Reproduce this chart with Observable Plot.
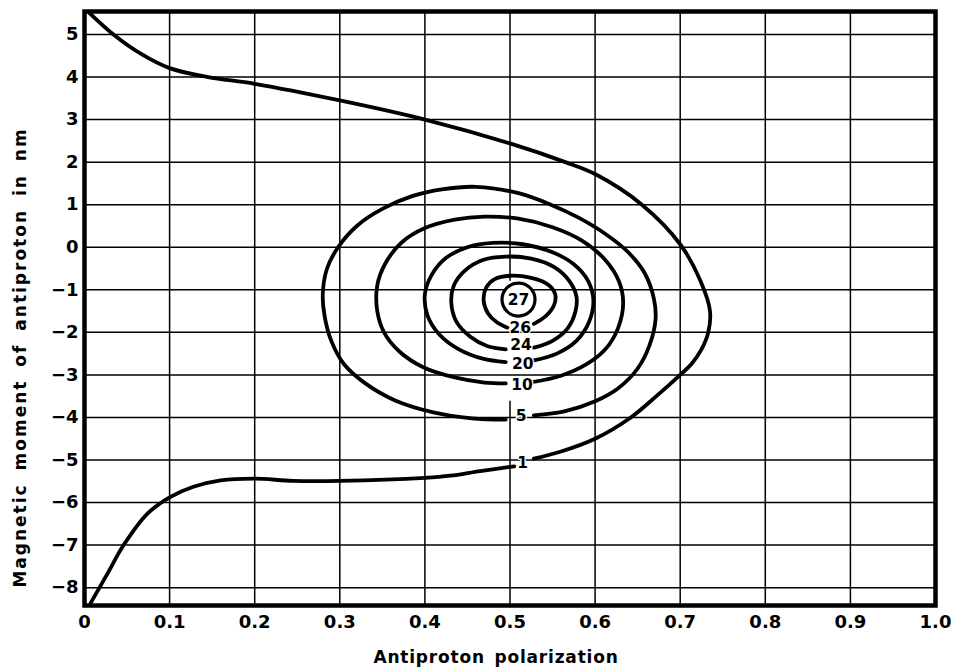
<!DOCTYPE html>
<html>
<head>
<meta charset="utf-8">
<script src="https://cdn.jsdelivr.net/npm/d3@7"></script>
<script src="https://cdn.jsdelivr.net/npm/@observablehq/plot@0.6"></script>
<style>
  html, body { margin: 0; padding: 0; background: #fff; }
  #chart svg { display: block; }
</style>
</head>
<body>
<div id="chart"></div>
<script>
// Tick values and labels
const xTicks = [0, 0.1, 0.2, 0.3, 0.4, 0.5, 0.6, 0.7, 0.8, 0.9, 1.0];
const xTickLabels = ["0", "0.1", "0.2", "0.3", "0.4", "0.5", "0.6", "0.7", "0.8", "0.9", "1.0"];
const yTicks = [-8, -7, -6, -5, -4, -3, -2, -1, 0, 1, 2, 3, 4, 5];
// x = 0.5 grid line is interrupted behind the contour labels
const xGridFull = [0, 0.1, 0.2, 0.3, 0.4, 0.6, 0.7, 0.8, 0.9, 1.0];
const xGridBroken = [{x: 0.5, y1: 5.54, y2: -0.8}, {x: 0.5, y1: -3.62, y2: -8.42}];

// Contour level 1 (two branches)
const c1Upper = [[0.005,5.52],[0.034,5.0],[0.066,4.55],[0.10,4.21],[0.145,4.0],[0.2,3.84],[0.3,3.45],[0.4,3.0],[0.5,2.44],[0.565,2.0],[0.6,1.72],[0.655,1.0],[0.70,0.07],[0.724,-0.8],[0.735,-1.5],[0.733,-2.0],[0.725,-2.4],[0.713,-2.75],[0.70,-3.0],[0.672,-3.5],[0.642,-4.0],[0.6,-4.5],[0.56,-4.8],[0.528,-4.97]];
const c1Lower = [[0.505,-5.15],[0.465,-5.26],[0.43,-5.37],[0.40,-5.42],[0.30,-5.49],[0.245,-5.49],[0.2,-5.44],[0.16,-5.48],[0.128,-5.63],[0.10,-5.88],[0.074,-6.26],[0.046,-7.0],[0.027,-7.67],[0.007,-8.37]];
// Contour level 5
const c5 = [[0.528,-3.95],[0.565,-3.85],[0.6,-3.62],[0.628,-3.3],[0.65,-2.85],[0.664,-2.3],[0.671,-1.7],[0.669,-1.2],[0.658,-0.6],[0.638,-0.1],[0.613,0.3],[0.58,0.7],[0.548,1.0],[0.51,1.27],[0.46,1.42],[0.42,1.36],[0.385,1.2],[0.35,0.9],[0.32,0.5],[0.298,0.0],[0.285,-0.5],[0.28,-1.1],[0.282,-1.6],[0.29,-2.2],[0.305,-2.75],[0.33,-3.2],[0.365,-3.6],[0.41,-3.88],[0.455,-4.02],[0.495,-4.05]];
// Contour level 10
const c10 = [[0.526,-3.17],[0.56,-3.02],[0.59,-2.75],[0.612,-2.4],[0.627,-1.9],[0.633,-1.3],[0.628,-0.8],[0.612,-0.3],[0.585,0.15],[0.55,0.47],[0.51,0.67],[0.47,0.72],[0.435,0.65],[0.4,0.45],[0.372,0.1],[0.353,-0.4],[0.344,-0.9],[0.344,-1.5],[0.352,-2.0],[0.37,-2.45],[0.398,-2.82],[0.435,-3.06],[0.47,-3.18],[0.495,-3.2]];
// Contour level 20
const c20 = [[0.528,-2.66],[0.555,-2.5],[0.578,-2.2],[0.593,-1.75],[0.598,-1.25],[0.592,-0.8],[0.575,-0.4],[0.55,-0.12],[0.515,0.07],[0.48,0.1],[0.45,0.0],[0.425,-0.25],[0.408,-0.65],[0.4,-1.1],[0.403,-1.6],[0.417,-2.05],[0.44,-2.4],[0.468,-2.62],[0.495,-2.7]];
// Contour level 24
const c24 = [[0.528,-2.36],[0.55,-2.2],[0.568,-1.9],[0.577,-1.5],[0.578,-1.15],[0.57,-0.8],[0.552,-0.47],[0.525,-0.27],[0.495,-0.22],[0.468,-0.3],[0.447,-0.55],[0.434,-0.9],[0.431,-1.3],[0.437,-1.75],[0.453,-2.1],[0.473,-2.32],[0.495,-2.4]];
// Contour level 26
const c26 = [[0.528,-1.8],[0.543,-1.6],[0.552,-1.35],[0.553,-1.1],[0.545,-0.88],[0.525,-0.72],[0.5,-0.67],[0.482,-0.75],[0.472,-0.95],[0.469,-1.25],[0.474,-1.55],[0.485,-1.77],[0.497,-1.89]];
// Peak (level 27)
const peak = [[0.51,-1.23]];
// Contour labels
const labelText = ["27", "26", "24", "20", "10", "5", "1"];
const labelX = [0.51, 0.512, 0.513, 0.515, 0.514, 0.513, 0.515];
const labelY = [-1.23, -1.91, -2.31, -2.75, -3.23, -3.96, -5.08];

const xLabel = "Antiproton polarization";
const yLabel = "Magnetic moment of antiproton in nm";

const curves = [c1Upper, c1Lower, c5, c10, c20, c24, c26];
const lineData = curves.flatMap((c, i) => c.map(([x, y]) => ({x, y, id: i})));
const labels = labelText.map((t, i) => ({t, x: labelX[i], y: labelY[i]}));

const FONT = "'DejaVu Sans', 'Liberation Sans', sans-serif";

const plot = Plot.plot({
  width: 958,
  height: 672,
  marginLeft: 84,
  marginRight: 23,
  marginTop: 11,
  marginBottom: 67,
  x: {domain: [0, 1]},
  y: {domain: [-8.42, 5.54]},
  style: {fontFamily: FONT, color: "#000", background: "#fff"},
  marks: [
    Plot.ruleX(xGridFull, {stroke: "#000", strokeWidth: 1.5}),
    Plot.ruleX(xGridBroken, {x: "x", y1: "y1", y2: "y2", stroke: "#000", strokeWidth: 1.5}),
    Plot.ruleY(yTicks, {stroke: "#000", strokeWidth: 1.5}),
    Plot.line(lineData, {x: "x", y: "y", z: "id", curve: "catmull-rom", stroke: "#000", strokeWidth: 3.8}),
    Plot.dot(peak, {x: d => d[0], y: d => d[1], r: 16.5, stroke: "#000", strokeWidth: 3.2, fill: "#fff"}),
    Plot.text(labels, {x: "x", y: "y", text: "t", fontSize: 15.5, fill: "#000", stroke: "#fff", strokeWidth: 2.5, fontWeight: "bold"}),
    Plot.frame({stroke: "#000", strokeWidth: 4.5}),
    Plot.axisX(xTicks, {tickSize: 0, tickPadding: 10, tickFormat: (d, i) => xTickLabels[i], fontSize: 18, fontWeight: "bold", label: null}),
    Plot.axisY(yTicks, {tickSize: 0, tickPadding: 6, fontSize: 18, fontWeight: "bold", label: null}),
    Plot.text([xLabel], {frameAnchor: "bottom", textAnchor: "middle", lineAnchor: "middle", dy: 52, dx: -14, fontSize: 17, fontWeight: "bold"}),
    Plot.text([yLabel], {frameAnchor: "left", textAnchor: "middle", lineAnchor: "middle", rotate: -90, dx: -64, dy: 49, fontSize: 17, fontWeight: "bold"})
  ]
});
document.getElementById("chart").appendChild(plot);

// letter/word spacing for the axis titles, as in the reference
d3.select(plot).selectAll("text")
  .filter(function() { return this.textContent === yLabel; })
  .style("letter-spacing", "2px").style("word-spacing", "5px");
d3.select(plot).selectAll("text")
  .filter(function() { return this.textContent === xLabel; })
  .style("letter-spacing", "0.8px").style("word-spacing", "3px");
</script>
</body>
</html>
